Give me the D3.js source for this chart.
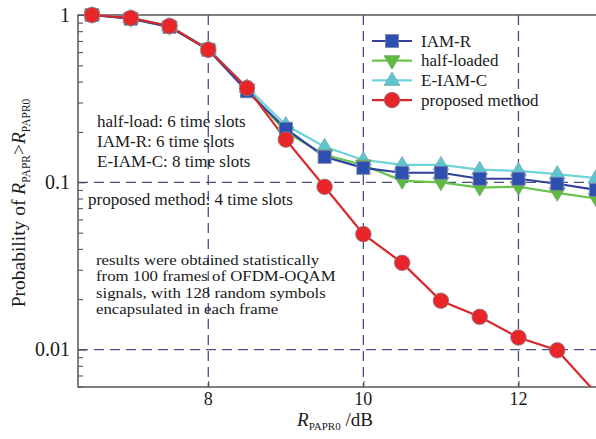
<!DOCTYPE html>
<html><head><meta charset="utf-8">
<script src="https://cdn.jsdelivr.net/npm/d3@7"></script>
<style>
html,body{margin:0;padding:0;background:#fff;}
svg{display:block;}
text{font-family:"Liberation Serif","Times New Roman",serif;fill:#1a1a1a;}
</style></head>
<body>
<svg id="chart" width="596" height="439"></svg>
<script>
// ---------------- data ----------------
const xValues = [6.5, 7, 7.5, 8, 8.5, 9, 9.5, 10, 10.5, 11, 11.5, 12, 12.5, 13];
const iamR      = [1.0, 0.95, 0.85, 0.62, 0.35, 0.209, 0.142, 0.122, 0.114, 0.114, 0.105, 0.105, 0.098, 0.090];
const halfLoaded= [1.0, 0.95, 0.85, 0.62, 0.36, 0.200, 0.146, 0.127, 0.102, 0.100, 0.093, 0.094, 0.0865, 0.080];
const eIamC     = [1.0, 0.96, 0.86, 0.63, 0.37, 0.220, 0.163, 0.136, 0.127, 0.127, 0.119, 0.117, 0.112, 0.106];
const proposed  = [1.0, 0.96, 0.86, 0.62, 0.366, 0.18, 0.094, 0.049, 0.033, 0.0196, 0.0157, 0.0118, 0.0099, 0.0055];
const seriesNames = ["IAM-R", "half-loaded", "E-IAM-C", "proposed method"];
const xTicks = [8, 10, 12];
const yTicks = [0.01, 0.1, 1];
const yTickLabels = ["0.01", "0.1", "1"];
const noteTop = ["half-load: 6 time slots", "IAM-R: 6 time slots", "E-IAM-C: 8 time slots"];
const noteMid = ["proposed method: 4 time slots"];
const noteBottom = ["results were obtained statistically", "from 100 frames of OFDM-OQAM",
                    "signals, with 128 random symbols", "encapsulated in each frame"];

// ---------------- layout ----------------
const L = 78, T = 15, R = 596, B = 387;
const svg = d3.select("#chart");
const x = d3.scaleLinear().domain([6.32, 13.0]).range([L, R]);
const y = d3.scaleLog().domain([0.005975, 1]).range([B, T]);

const styles = {
  "IAM-R":          {line:"#2f3f9c", fill:"#2d4fb0", shape:"square"},
  "half-loaded":    {line:"#66c54a", fill:"#5dbb3c", shape:"down"},
  "E-IAM-C":        {line:"#6fd3dc", fill:"#5cc6d0", shape:"up"},
  "proposed method":{line:"#d8282b", fill:"#e8262a", shape:"circle"}
};
const seriesData = {"IAM-R": iamR, "half-loaded": halfLoaded, "E-IAM-C": eIamC, "proposed method": proposed};

svg.append("defs").append("clipPath").attr("id","clip")
  .append("rect").attr("x", L).attr("y", T - 10).attr("width", R - L).attr("height", B - T + 10);
svg.append("clipPath").attr("id","clipIn")
  .append("rect").attr("x", L).attr("y", T).attr("width", R - L).attr("height", B - T);

// grid (dashed)
const gridColor = "#4a4d8c";
const grid = svg.append("g").attr("clip-path","url(#clipIn)");
grid.selectAll("line.gx").data(xTicks).join("line")
  .attr("x1", d => x(d)).attr("x2", d => x(d)).attr("y1", T).attr("y2", B)
  .attr("stroke", gridColor).attr("stroke-width", 1.3).attr("stroke-dasharray", "10,6");
grid.selectAll("line.gy").data(yTicks.filter(v => v < 1)).join("line")
  .attr("y1", d => y(d)).attr("y2", d => y(d)).attr("x1", L).attr("x2", R)
  .attr("stroke", gridColor).attr("stroke-width", 1.3).attr("stroke-dasharray", "10,6");

// axes
const yAxis = d3.axisRight(y).tickValues(y.ticks().filter(v => v >= 0.006)).tickSize(5).tickFormat("");
const gy = svg.append("g").attr("transform", `translate(${L},0)`).call(yAxis);
gy.selectAll(".tick line").attr("stroke", "#444").attr("x2", d => yTicks.includes(d) ? 8 : 5);
gy.select(".domain").remove();
const xAxis = d3.axisTop(x).tickValues(xTicks).tickSize(6).tickFormat("");
const gx = svg.append("g").attr("transform", `translate(0,${B})`).call(xAxis);
gx.selectAll(".tick line").attr("stroke", "#444");
gx.select(".domain").remove();

// frame
svg.append("path").attr("d", `M${R},${T}H${L}V${B}H${R}`)
  .attr("fill", "none").attr("stroke", "#555").attr("stroke-width", 1.5);

// tick labels
svg.selectAll("text.ylab").data(yTicks).join("text")
  .attr("x", 70).attr("y", d => y(d)).attr("dy", "0.34em")
  .attr("text-anchor", "end").attr("font-size", 20)
  .text((d, i) => yTickLabels[i]);
svg.selectAll("text.xlab").data(xTicks).join("text")
  .attr("x", d => x(d)).attr("y", 405).attr("text-anchor", "middle").attr("font-size", 18)
  .text(d => d);

// axis titles
const xt = svg.append("text").attr("x", 335).attr("y", 426).attr("text-anchor", "middle").attr("font-size", 19);
xt.append("tspan").attr("font-style", "italic").text("R");
xt.append("tspan").attr("font-size", 11).attr("dy", 4).text("PAPR0");
xt.append("tspan").attr("dy", -4).text(" /dB");

const yt = svg.append("text").attr("transform", "translate(25,203) rotate(-90)")
  .attr("text-anchor", "middle").attr("font-size", 19.5);
yt.append("tspan").text("Probability of ");
yt.append("tspan").attr("font-style", "italic").text("R");
yt.append("tspan").attr("font-size", 11.5).attr("dy", 5).text("PAPR");
yt.append("tspan").attr("dy", -5).text(">");
yt.append("tspan").attr("font-style", "italic").text("R");
yt.append("tspan").attr("font-size", 11.5).attr("dy", 5).text("PAPR0");

// annotations
svg.selectAll("text.n1").data(noteTop).join("text")
  .attr("x", 97).attr("y", (d, i) => 127 + i * 20).attr("font-size", 17).text(d => d);
svg.selectAll("text.n2").data(noteMid).join("text")
  .attr("x", 88).attr("y", 205).attr("font-size", 17).text(d => d);
// lower note: compact font, widened to the width of the reference's wide serif face
const n3 = svg.selectAll("text.n3").data(noteBottom).join("text")
  .attr("x", 96).attr("y", (d, i) => 265 + i * 16.4).attr("font-size", 16.8).text(d => d);
n3.each(function() {
  const w = this.getComputedTextLength();
  d3.select(this).attr("font-size", 14.2).attr("textLength", w).attr("lengthAdjust", "spacingAndGlyphs");
});

// marker symbol
function marker(sel, shape, fill) {
  if (shape === "circle") {
    sel.append("circle").attr("r", 7.8).attr("fill", fill).attr("stroke", "#8a7f8a").attr("stroke-width", 0.8);
  } else if (shape === "square") {
    sel.append("rect").attr("x", -6.5).attr("y", -6.5).attr("width", 13).attr("height", 13)
      .attr("fill", fill).attr("stroke", "#7a86a8").attr("stroke-width", 0.8);
  } else if (shape === "up") {
    sel.append("path").attr("d", "M0,-8.5L8,5L-8,5Z").attr("fill", fill).attr("stroke", "#7fa8ae").attr("stroke-width", 0.8);
  } else {
    sel.append("path").attr("d", "M0,8.5L8,-5L-8,-5Z").attr("fill", fill).attr("stroke", "#7fa07a").attr("stroke-width", 0.8);
  }
}

// series
const plot = svg.append("g").attr("clip-path", "url(#clip)");
const drawOrder = ["E-IAM-C", "half-loaded", "IAM-R", "proposed method"];
const line = d3.line().x(d => x(d[0])).y(d => y(d[1]));
drawOrder.forEach(name => {
  const pts = xValues.map((v, i) => [v, seriesData[name][i]]);
  plot.append("path").datum(pts).attr("d", line)
    .attr("fill", "none").attr("stroke", styles[name].line).attr("stroke-width", 2.2);
});
drawOrder.forEach(name => {
  const pts = xValues.map((v, i) => [v, seriesData[name][i]]).filter(p => y(p[1]) <= B);
  plot.selectAll(null).data(pts).join("g")
    .attr("transform", d => `translate(${x(d[0])},${y(d[1])})`)
    .each(function() { marker(d3.select(this), styles[name].shape, styles[name].fill); });
});

// legend
const lg = svg.append("g");
seriesNames.forEach((name, i) => {
  const ly = 41 + i * 19.7;
  lg.append("line").attr("x1", 372).attr("x2", 412).attr("y1", ly).attr("y2", ly)
    .attr("stroke", styles[name].line).attr("stroke-width", 2.2);
  const m = lg.append("g").attr("transform", `translate(392,${ly})`);
  marker(m, styles[name].shape, styles[name].fill);
  lg.append("text").attr("x", 421).attr("y", ly).attr("dy", "0.33em").attr("font-size", 17).text(name);
});
</script>
</body></html>
